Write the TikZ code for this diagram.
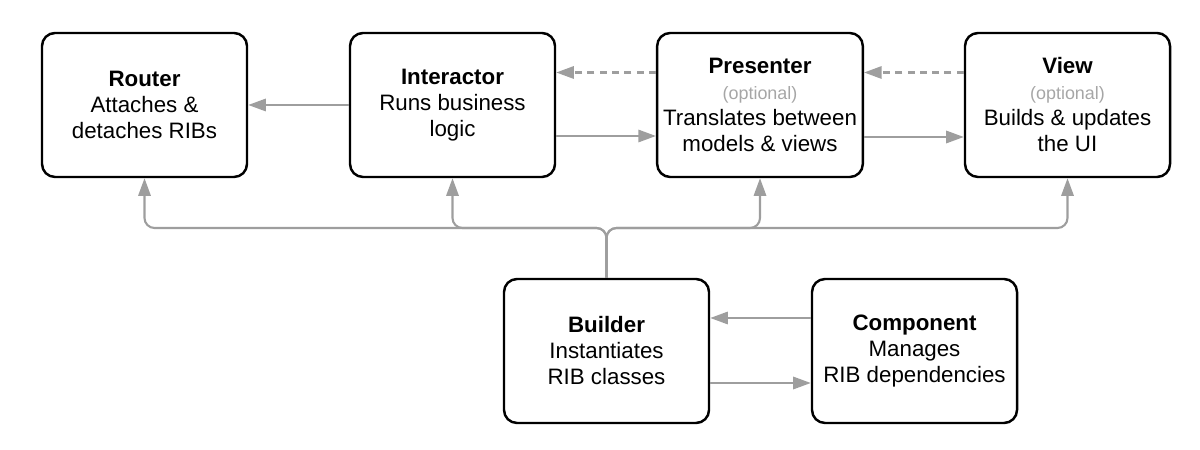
\documentclass[tikz,border=0pt]{standalone}
\usepackage{fontspec}
\setmainfont{Liberation Sans}
\usetikzlibrary{arrows.meta}
\definecolor{linkgray}{HTML}{9E9E9E}
\definecolor{optgray}{HTML}{A6A6A6}
\def\optional{{\color{optgray}\fontsize{10.2}{12}\selectfont (optional)}}
\tikzset{
	rib/.style={draw, rounded corners=0.26cm, line width=1.4pt, minimum width=4.1cm, minimum height=2.88cm, align=center, font=\fontsize{12.7}{14.8}\selectfont},
	link/.style={draw=linkgray, line width=1.2pt, -{Triangle[length=10pt, width=7pt]}},
	weak/.style={link, dash pattern=on 4pt off 3pt},
	bus/.style={link, rounded corners=0.2cm}
}
\begin{document}
\begin{tikzpicture}
			%%%%% START %%%%%
			\useasboundingbox (0, 0) rectangle (24, 8.98);
			
			\node[rib] (router) at (2.89, 6.88) {\textbf{Router}\\Attaches \&\\detaches RIBs};
			\node[rib] (interactor) at (9.05, 6.88) {\textbf{Interactor}\\Runs business\\logic};
			\node[rib] (presenter) at (15.2, 6.88) {\textbf{Presenter}\\\optional\\Translates between\\models \& views};
			\node[rib] (view) at (21.35, 6.88) {\textbf{View}\\\optional\\Builds \& updates\\the UI};
			
			\node[rib] (builder) at (12.13, 1.96) {\textbf{Builder}\\Instantiates\\RIB classes};
			\node[rib] (component) at (18.29, 1.96) {\textbf{Component}\\Manages\\RIB dependencies};
			
			\coordinate (bus) at (0, 4.42);
			
			\draw[link] (interactor.west) -- (router.east);
			\draw[link] ([yshift=-0.62cm]interactor.east) -- ([yshift=-0.62cm]presenter.west);
			\draw[link] ([yshift=-0.64cm]presenter.east) -- ([yshift=-0.64cm]view.west);
			\draw[weak] ([yshift=0.65cm]presenter.west) -- ([yshift=0.65cm]interactor.east);
			\draw[weak] ([yshift=0.65cm]view.west) -- ([yshift=0.65cm]presenter.east);
			
			\draw[link] ([yshift=0.66cm]component.west) -- ([yshift=0.66cm]builder.east);
			\draw[link] ([yshift=-0.64cm]builder.east) -- ([yshift=-0.64cm]component.west);
			
			\draw[bus] (builder.north) -- (builder.north |- bus) -- (router.south |- bus) -- (router.south);
			\draw[bus] (builder.north) -- (builder.north |- bus) -- (interactor.south |- bus) -- (interactor.south);
			\draw[bus] (builder.north) -- (builder.north |- bus) -- (presenter.south |- bus) -- (presenter.south);
			\draw[bus] (builder.north) -- (builder.north |- bus) -- (view.south |- bus) -- (view.south);
			
			%%%%% END %%%%%
		\end{tikzpicture}
\end{document}
